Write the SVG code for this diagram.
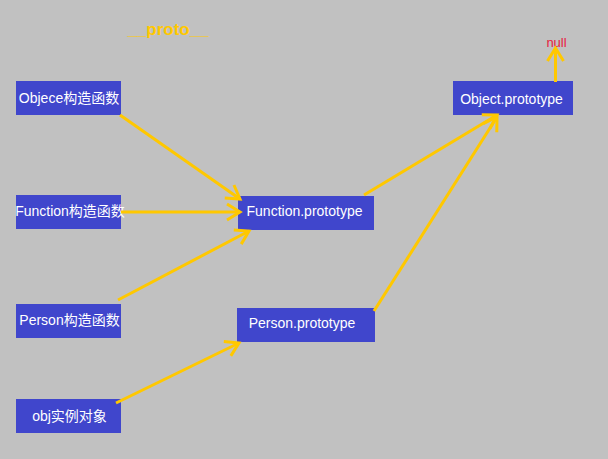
<svg xmlns="http://www.w3.org/2000/svg" width="608" height="459" viewBox="0 0 608 459">
<style>
.node rect{fill:#4046cc}
.node text{fill:#ffffff;font-family:"Liberation Sans","Noto Sans CJK SC",sans-serif;font-size:14px;text-anchor:middle}
.conn line{stroke:#ffc800;stroke-width:3;fill:none;marker-end:url(#ah)}
</style>
<defs>
<marker id="ah" markerUnits="userSpaceOnUse" viewBox="-16 -10 20 20" refX="0" refY="0" markerWidth="20" markerHeight="20" orient="auto">
<path d="M-13,-8 L0,0 L-13,8" fill="none" stroke="#ffc800" stroke-width="3"/>
</marker>
</defs>
<rect width="608" height="459" fill="#c1c1c1"/>
<text x="168" y="35" fill="#ffc800" font-family="'Liberation Sans',sans-serif" font-size="17" font-weight="700" text-anchor="middle">__proto__</text>
<g id="objece"><g class="node"><rect x="16" y="81" width="105" height="34"/><text x="69" y="103">Objece构造函数</text></g></g>
<g id="function-ctor"><g class="node"><rect x="16" y="195" width="105" height="34"/><text x="70" y="216">Function构造函数</text></g></g>
<g id="person-ctor"><g class="node"><rect x="16" y="304" width="105" height="34"/><text x="69.5" y="325">Person构造函数</text></g></g>
<g id="obj"><g class="node"><rect x="16" y="399" width="105" height="34"/><text x="69.5" y="421">obj实例对象</text></g></g>
<g id="function-proto"><g class="node"><rect x="238" y="196" width="136" height="34"/><text x="304.5" y="216">Function.prototype</text></g></g>
<g id="person-proto"><g class="node"><rect x="237" y="308" width="138" height="34"/><text x="302" y="328">Person.prototype</text></g></g>
<g id="object-proto"><g class="node"><rect x="453" y="81" width="120" height="34"/><text x="511.5" y="104">Object.prototype</text></g></g>
<text x="556.5" y="47" fill="#e8203c" font-family="'Liberation Sans',sans-serif" font-size="13" text-anchor="middle">null</text>
<g id="connectors" class="conn">
<line x1="120" y1="115" x2="240" y2="199"/>
<line x1="121" y1="212" x2="240" y2="212"/>
<line x1="118" y1="300" x2="249" y2="231"/>
<line x1="116" y1="403" x2="239" y2="343"/>
<line x1="364" y1="195" x2="497" y2="115"/>
<line x1="374" y1="311" x2="497" y2="117"/>
<line x1="555.5" y1="82" x2="555.5" y2="48"/>
</g>
</svg>
